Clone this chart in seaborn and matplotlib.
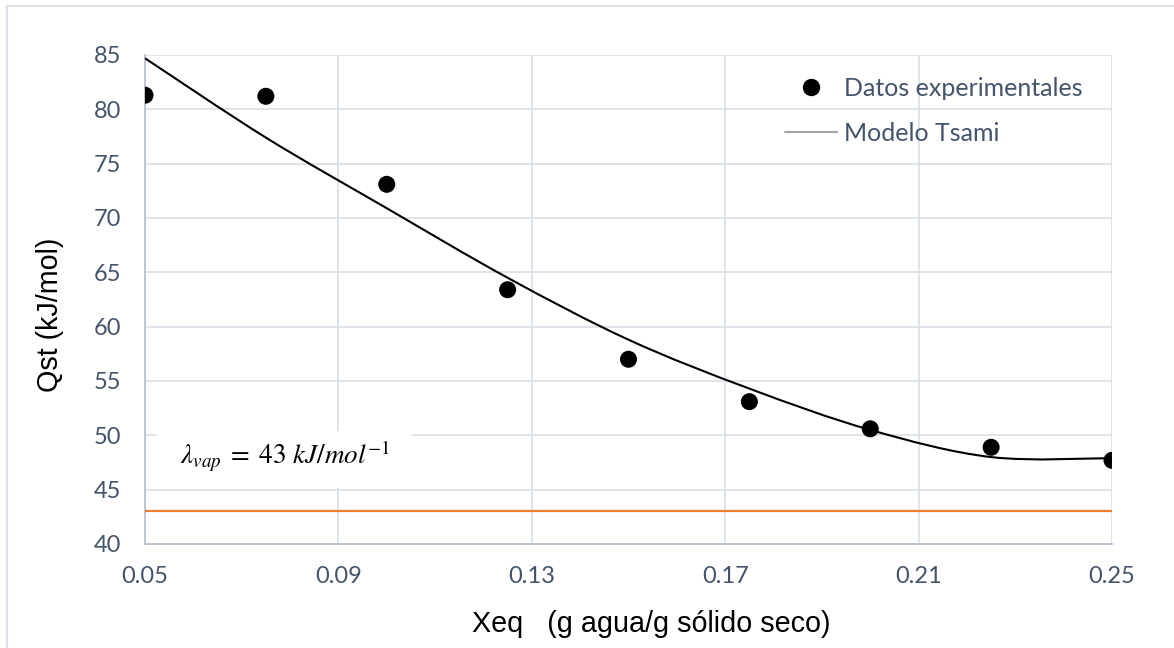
import numpy as np
import pandas as pd
import matplotlib
matplotlib.use("Agg")
import matplotlib.pyplot as plt
import seaborn as sns
from matplotlib.path import Path
from matplotlib.patches import PathPatch, Rectangle
from matplotlib.lines import Line2D

# Moisture content and isosteric heat of sorption
xeq = [0.05, 0.075, 0.1, 0.125, 0.15, 0.175, 0.2, 0.225, 0.25]
qst_exp = [81.3, 81.2, 73.1, 63.4, 57.0, 53.1, 50.6, 48.9, 47.7]
qst_tsami = [84.7, 77.4, 70.9, 64.5, 58.8, 54.3, 50.5, 48.0, 47.9]
lambda_vap = 43

x_ticks = [0.05, 0.09, 0.13, 0.17, 0.21, 0.25]
y_ticks = [40, 45, 50, 55, 60, 65, 70, 75, 80, 85]

TEXT = "#44546A"
GRID = "#DCE0E8"
SPINE = "#BAC2D0"

sns.set_theme(style="white")
plt.rcParams["font.family"] = ["Lato", "DejaVu Sans"]
plt.rcParams["mathtext.fontset"] = "stix"

W, H = 1174, 648
fig = plt.figure(figsize=(W / 100, H / 100), dpi=100)
ax = fig.add_axes([145 / W, 1 - 544 / H, (1112 - 145) / W, (544 - 55) / H])

df = pd.DataFrame({"Xeq": xeq, "Qst": qst_exp})

# Smoothed model curve: cubic Bezier segments through the model values
pts = np.column_stack([xeq, qst_tsami])
verts = [tuple(pts[0])]
codes = [Path.MOVETO]
n = len(pts)
for i in range(n - 1):
    p_prev = pts[max(i - 1, 0)]
    p0 = pts[i]
    p1 = pts[i + 1]
    p_next = pts[min(i + 2, n - 1)]
    c1 = p0 + (p1 - p_prev) / 6
    c2 = p1 - (p_next - p0) / 6
    verts += [tuple(c1), tuple(c2), tuple(p1)]
    codes += [Path.CURVE4] * 3
ax.add_patch(PathPatch(Path(verts, codes), facecolor="none", edgecolor="black",
                       lw=1.5, zorder=3))

# Latent heat of vaporisation of water
ax.axhline(lambda_vap, color="#ED7D31", lw=1.6, zorder=3)

sns.scatterplot(data=df, x="Xeq", y="Qst", color="black", s=150,
                edgecolor="none", zorder=4, ax=ax, legend=False)

ax.set_xlim(0.05, 0.25)
ax.set_ylim(40, 85)
ax.set_xticks(x_ticks)
ax.set_xticklabels([f"{t:.2f}" for t in x_ticks])
ax.set_yticks(y_ticks)
ax.grid(True, color=GRID, lw=1.3, zorder=0)
ax.set_axisbelow(True)
for side in ["top", "right"]:
    ax.spines[side].set_visible(False)
for side in ["left", "bottom"]:
    ax.spines[side].set_color(SPINE)
    ax.spines[side].set_linewidth(1.3)
ax.tick_params(axis="both", length=0, labelsize=17, colors=TEXT)
ax.tick_params(axis="y", pad=17)
ax.tick_params(axis="x", pad=16)
ax.set_xlabel("")
ax.set_ylabel("")

# White box behind the annotation
ax.add_patch(Rectangle((12 / 967, (544 - 488) / 489), (412 - 157) / 967, (488 - 431) / 489,
                       transform=ax.transAxes, facecolor="white", edgecolor="none",
                       zorder=1))
ax.text(35 / 967, (544 - 457) / 489, r"$\lambda_{vap}\;=\;43\ kJ/mol^{-1}$",
        transform=ax.transAxes, fontsize=19.5, color="black", va="center", ha="left",
        zorder=2)

handles = [
    Line2D([], [], marker="o", color="black", linestyle="none", markersize=11.5),
    Line2D([], [], color="#A5A5A5", lw=1.5),
]
ax.legend(handles, ["Datos experimentales", "Modelo Tsami"], frameon=False,
          loc="upper left", bbox_to_anchor=(772 / W, 1 - 64 / H),
          bbox_transform=fig.transFigure, fontsize=18, labelcolor=TEXT,
          handlelength=2.1, handletextpad=0.28, labelspacing=0.9, borderpad=0)

fig.text(651 / W, 1 - 624 / H, "Xeq   (g agua/g sólido seco)",
         family=["Liberation Sans", "DejaVu Sans"], fontsize=20.7, color="black",
         ha="center", va="center")
fig.text(50 / W, 1 - 315 / H, "Qst (kJ/mol)",
         family=["Liberation Sans", "DejaVu Sans"], fontsize=20.7, color="black",
         ha="center", va="center", rotation=90)

# Outer chart frame
fig.add_artist(Rectangle((7 / W, -0.1), 1.2, 1 - 6 / H + 0.1, transform=fig.transFigure,
                         facecolor="none", edgecolor="#DDE1E8", lw=1.5))

fig.savefig("out.png", dpi=100)
